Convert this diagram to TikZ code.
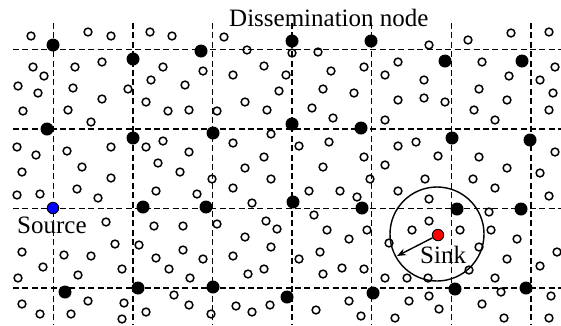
\documentclass[tikz,border=0pt]{standalone}
\usepackage{fontspec}
\setmainfont{Liberation Serif}
\usetikzlibrary{arrows.meta}
\tikzset{
  gridline/.style={line width=1.5pt, dash pattern=on 6pt off 3.4pt},
  hol/.style={circle, draw, line width=1.5pt, inner sep=0pt, minimum size=7.8pt},
  full/.style={circle, fill=black, inner sep=0pt, minimum size=13pt},
  special/.style={circle, draw, line width=0.9pt, inner sep=0pt, minimum size=11.5pt},
  lbl/.style={anchor=base west, inner sep=0pt, font=\fontsize{25}{30}\selectfont},
}
\begin{document}
\begin{tikzpicture}[x=1pt,y=-1pt]
\useasboundingbox (0,0) rectangle (561,325);
% grid
\foreach \gx in {53.3,132.9,212.5,292.1,371.7,451.3,530.9}
  \draw[gridline] (\gx,23) -- (\gx,325);
\foreach \gy in {49.3,128.9,208.5,288.1}
  \draw[gridline] (13,\gy) -- (561,\gy);
% ordinary sensor nodes
\foreach \px/\py [count=\i] in {
31/36,88/32,111/36,150/32,172/36,33/67,44/76,75/67,102/62,163/67,18/86,38/93,73/88,128/89,151/80,185/85,102/99,146/102,
224/37,247/50,318/52,203/71,233/75,264/66,286/75,331/71,364/67,279/91,323/89,354/93,245/102,189/110,217/111,267/110,312/108,292/53,
429/45,468/40,511/33,549/32,398/62,482/62,385/75,424/80,509/76,540/80,555/67,479/89,553/93,398/100,424/98,445/102,507/100,474/110,549/110,
23/111,68/110,91/122,168/111,17/147,36/155,67/151,111/147,146/147,163/141,189/152,22/172,82/167,158/163,180/172,111/178,17/195,40/194,77/189,98/198,156/191,
333/118,233/143,271/134,299/146,329/142,264/157,245/168,323/167,364/157,212/179,271/179,370/179,233/188,197/194,309/191,340/191,357/197,252/203,314/215,
385/120,495/120,398/146,416/142,438/156,479/157,507/168,555/152,385/165,425/179,473/179,540/173,398/191,429/199,495/188,549/196,489/212,
106/222,154/226,183/226,22/252,64/255,91/256,115/244,139/245,156/258,183/250,43/267,78/275,122/269,169/269,18/278,22/304,40/314,71/314,88/301,124/303,122/319,146/312,174/295,189/305,190/278,
217/224,266/221,277/229,327/230,349/239,367/230,245/237,271/247,203/259,233/256,299/259,320/252,248/274,264/269,323/274,342/268,364/269,211/314,236/306,252/312,270/305,316/310,349/301,361/316,
429/221,412/230,460/230,491/230,517/239,389/243,479/247,507/259,557/252,540/266,469/270,385/278,407/278,428/278,495/278,429/296,409/301,439/309,482/304,501/292,551/296,395/318,504/318,549/318}
  \node[hol] (h\i) at (\px,\py) {};
% dissemination nodes
\foreach \px/\py [count=\i] in {
53/45,133/59,201/51,292/41,371/41,445/61,522/61,
47/129,133/138,213/133,292/124,361/128,452/138,530/140,
143/207,206/207,293/202,362/208,457/209,521/209,
65/292,138/288,213/287,287/297,373/293,455/289,526/288}
  \node[full] (d\i) at (\px,\py) {};
% source and sink
\node[special, fill=blue] (source) at (53,208) {};
\node[special, fill=red] (sink) at (438,235) {};
\node[circle, draw, line width=1.4pt, inner sep=0pt, minimum size=94pt] (range) at (437,234) {};
\coordinate (tip) at (397,256);
\draw[line width=1.4pt, -{Stealth[length=9pt,width=7pt]}] (sink) -- (tip);
% labels
\node[lbl] (tdis) at (229,26) {Dissemination node};
\node[lbl] (tsrc) at (17,233) {Source};
\node[lbl] (tsink) at (420,263) {Sink};
\end{tikzpicture}
\end{document}
